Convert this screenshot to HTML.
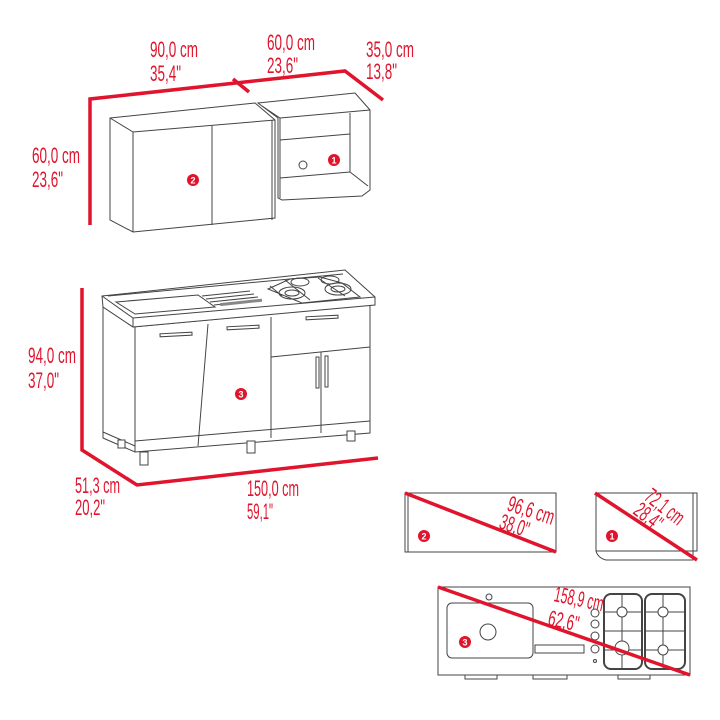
<!DOCTYPE html>
<html><head><meta charset="utf-8"><style>html,body{margin:0;padding:0;background:#fff}svg{display:block}</style></head>
<body>
<svg width="720" height="720" viewBox="0 0 720 720" xmlns="http://www.w3.org/2000/svg">
<defs>
<style>
.r{stroke:#e0142c;stroke-width:3.5;fill:none;stroke-linejoin:miter}
.k{stroke:#444;stroke-width:1;fill:none}
.kf{stroke:#444;stroke-width:1;fill:#fff}
.t{font-family:"Liberation Sans",sans-serif;font-size:22px;fill:#e0142c}
.b{fill:#e0142c}
.bt{font-family:"Liberation Sans",sans-serif;font-size:9px;fill:#fff;font-weight:bold}
</style>
</defs>

<polyline class="r" points="90,225 90,99 345,71 383,100"/>
<line class="r" x1="233" y1="79" x2="249" y2="92"/>

<polygon class="kf" points="110,118 255,103 275,120 275,218 133,232 110,220"/>
<line class="k" x1="110" y1="118" x2="133" y2="132"/>
<line class="k" x1="133" y1="132" x2="275" y2="120"/>
<line class="k" x1="133" y1="132" x2="133" y2="232"/>
<line class="k" x1="212" y1="126" x2="212" y2="225"/>
<line class="k" x1="272" y1="120" x2="272" y2="220"/>
<polygon class="kf" points="258,103 355,93 370,110 370,190 362,196 282,200 278,198 278,118"/>
<line class="k" x1="262" y1="106" x2="280" y2="118"/>
<line class="k" x1="280" y1="118" x2="370" y2="110"/>
<line class="k" x1="280" y1="118" x2="280" y2="198"/>
<line class="k" x1="350" y1="113" x2="350" y2="172"/>
<line class="k" x1="280" y1="140" x2="350" y2="134"/>
<line class="k" x1="280" y1="178" x2="350" y2="172"/>
<line class="k" x1="350" y1="172" x2="368" y2="186"/>
<circle class="k" cx="303" cy="165" r="4"/>
<circle class="b" cx="334" cy="160" r="6"/><text class="bt" x="331.5" y="163.5">1</text>
<circle class="b" cx="193" cy="180" r="6"/><text class="bt" x="190.5" y="183.5">2</text>

<text class="t" x="150" y="57" textLength="48" lengthAdjust="spacingAndGlyphs">90,0 cm</text>
<text class="t" x="150" y="81" textLength="31" lengthAdjust="spacingAndGlyphs">35,4"</text>
<text class="t" x="267" y="50" textLength="48" lengthAdjust="spacingAndGlyphs">60,0 cm</text>
<text class="t" x="267" y="73" textLength="31" lengthAdjust="spacingAndGlyphs">23,6"</text>
<text class="t" x="366" y="57" textLength="48" lengthAdjust="spacingAndGlyphs">35,0 cm</text>
<text class="t" x="366" y="79" textLength="31" lengthAdjust="spacingAndGlyphs">13,8"</text>
<text class="t" x="32" y="163" textLength="48" lengthAdjust="spacingAndGlyphs">60,0 cm</text>
<text class="t" x="32" y="187" textLength="31" lengthAdjust="spacingAndGlyphs">23,6"</text>

<polyline class="r" points="82,288 82,450 137,485 378,458"/>
<polygon class="kf" points="103,307 133,327 370,305 370,433 135,452 103,438"/>
<line class="k" x1="135" y1="327" x2="135" y2="452"/>
<line class="k" x1="103" y1="432" x2="135" y2="446"/>
<polygon class="kf" points="102,296 345,270 375,297 375,305 133,327 103,307"/>
<line class="k" x1="102" y1="296" x2="133" y2="318"/>
<line class="k" x1="133" y1="318" x2="375" y2="297"/>
<line class="k" x1="133" y1="318" x2="133" y2="327"/>
<line class="k" x1="108" y1="296" x2="343" y2="274"/>
<polygon class="k" points="116,302 198,295 215,307 135,314"/>
<line class="k" x1="202" y1="296" x2="250" y2="291"/>
<line class="k" x1="206" y1="299" x2="254" y2="294"/>
<line class="k" x1="210" y1="302" x2="258" y2="297"/>
<line class="k" x1="214" y1="305" x2="262" y2="300"/>
<rect x="220" y="301" width="42" height="3" fill="#888" transform="rotate(-6 240 302)"/>
<g class="k">
<path d="M268 289 l22 -10 l30 -2 l22 6 l18 14 l-58 6 z"/>
<ellipse cx="292" cy="293" rx="13" ry="6"/><ellipse cx="292" cy="293" rx="7" ry="3"/>
<ellipse cx="338" cy="289" rx="13" ry="6"/><ellipse cx="338" cy="289" rx="7" ry="3"/>
<ellipse cx="300" cy="282" rx="9" ry="4"/><ellipse cx="330" cy="280" rx="9" ry="4"/>
<line x1="285" y1="280" x2="310" y2="300"/><line x1="318" y1="278" x2="345" y2="296"/>
<line x1="270" y1="286" x2="282" y2="296"/>
</g>
<line class="k" x1="208" y1="324" x2="198" y2="446"/>
<line class="k" x1="271" y1="317" x2="271" y2="438"/>
<line class="k" x1="271" y1="357" x2="370" y2="347"/>
<line class="k" x1="321" y1="352" x2="321" y2="433"/>
<line class="k" x1="135" y1="441" x2="370" y2="421"/>
<rect x="160" y="333" width="32" height="3" class="k" transform="rotate(-3 176 334)"/>
<rect x="227" y="326" width="32" height="3" class="k" transform="rotate(-3 243 327)"/>
<rect x="306" y="316" width="32" height="3" class="k" transform="rotate(-3 322 317)"/>
<rect x="316" y="357" width="3" height="31" class="k"/>
<rect x="325" y="356" width="3" height="31" class="k"/>
<rect x="140" y="452" width="8" height="13" class="kf"/>
<rect x="247" y="441" width="8" height="12" class="kf"/>
<rect x="347" y="431" width="8" height="10" class="kf"/>
<rect x="118" y="440" width="7" height="8" class="kf"/>
<circle class="b" cx="241" cy="394" r="6"/><text class="bt" x="238.5" y="397.5">3</text>

<text class="t" x="28" y="363" textLength="48" lengthAdjust="spacingAndGlyphs">94,0 cm</text>
<text class="t" x="28" y="388" textLength="31" lengthAdjust="spacingAndGlyphs">37,0"</text>
<text class="t" x="75" y="493" textLength="45" lengthAdjust="spacingAndGlyphs">51,3 cm</text>
<text class="t" x="75" y="515" textLength="30" lengthAdjust="spacingAndGlyphs">20,2"</text>
<text class="t" x="247" y="496" textLength="52" lengthAdjust="spacingAndGlyphs">150,0 cm</text>
<text class="t" x="247" y="519" textLength="26" lengthAdjust="spacingAndGlyphs">59,1"</text>

<rect x="405" y="493" width="151" height="59" class="kf"/>
<line class="k" x1="408" y1="493" x2="408" y2="552"/>
<line class="r" x1="405" y1="493" x2="556" y2="552"/>
<circle class="b" cx="424" cy="536" r="6"/><text class="bt" x="421.5" y="539.5">2</text>
<text class="t" transform="translate(506,510) rotate(18)" textLength="48" lengthAdjust="spacingAndGlyphs">96,6 cm</text>
<text class="t" transform="translate(498,528) rotate(18)" textLength="30" lengthAdjust="spacingAndGlyphs">38,0"</text>

<path class="kf" d="M596 493 H697 V551 H693 V560 H606 Q598 558 596 551 Z"/>
<line class="k" x1="596" y1="551" x2="693" y2="551"/>
<line class="k" x1="693" y1="493" x2="693" y2="551"/>
<line class="r" x1="595" y1="493" x2="697" y2="560"/>
<circle class="b" cx="612" cy="536" r="6"/><text class="bt" x="609.5" y="539.5">1</text>
<text class="t" transform="translate(643,499) rotate(38)" textLength="44" lengthAdjust="spacingAndGlyphs">72,1 cm</text>
<text class="t" transform="translate(632,513) rotate(38)" textLength="30" lengthAdjust="spacingAndGlyphs">28,4"</text>

<rect x="438" y="587" width="252" height="88" class="kf"/>
<rect x="447" y="603" width="86" height="55" rx="5" class="k"/>
<circle class="k" cx="488" cy="632" r="8"/>
<circle class="k" cx="489" cy="597" r="3"/>
<rect x="535" y="645" width="49" height="8" class="k"/>
<g class="k">
<circle cx="595" cy="613" r="4"/><circle cx="595" cy="624" r="4"/><circle cx="595" cy="636" r="4"/><circle cx="595" cy="649" r="4"/>
<circle cx="595" cy="661" r="1.5"/>
<rect x="604" y="594" width="38" height="75" rx="7" stroke-width="2"/>
<rect x="645" y="594" width="40" height="75" rx="7" stroke-width="2"/>
<line x1="604" y1="631" x2="642" y2="631"/><line x1="645" y1="631" x2="685" y2="631"/>
<line x1="622" y1="594" x2="622" y2="669"/><line x1="663" y1="594" x2="663" y2="669"/>
<line x1="604" y1="612" x2="642" y2="612"/><line x1="645" y1="612" x2="685" y2="612"/>
<line x1="604" y1="650" x2="642" y2="650"/><line x1="645" y1="650" x2="685" y2="650"/>
<circle cx="622" cy="612" r="5" fill="#fff"/><circle cx="663" cy="612" r="5" fill="#fff"/>
<circle cx="663" cy="650" r="5" fill="#fff"/><circle cx="622" cy="648" r="7" fill="#fff"/>
</g>
<rect x="465" y="675" width="32" height="4" class="kf"/>
<rect x="533" y="675" width="34" height="4" class="kf"/>
<rect x="618" y="675" width="32" height="4" class="kf"/>
<line class="r" x1="438" y1="587" x2="690" y2="675"/>
<circle class="b" cx="465" cy="642" r="6"/><text class="bt" x="462.5" y="645.5">3</text>
<text class="t" transform="translate(553,601) rotate(12)" textLength="50" lengthAdjust="spacingAndGlyphs">158,9 cm</text>
<text class="t" transform="translate(547,625) rotate(12)" textLength="31" lengthAdjust="spacingAndGlyphs">62,6"</text>
</svg>
</body></html>
